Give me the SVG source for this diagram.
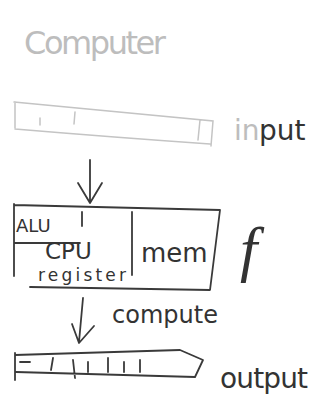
<svg xmlns="http://www.w3.org/2000/svg" width="329" height="403" viewBox="0 0 329 403">
<style>
.s{fill:none;stroke:#3a3a3a;stroke-width:1.8;stroke-linecap:round;stroke-linejoin:round}
.f{fill:none;stroke:#c4c4c4;stroke-width:1.5;stroke-linecap:round}
.t{font-family:"DejaVu Sans",sans-serif;fill:#333}
.g{font-family:"DejaVu Sans",sans-serif;fill:#bdbdbd}
</style>
<rect width="329" height="403" fill="#fff"/>
<g id="title"><text class="g" x="24" y="54" font-size="32" textLength="142">Computer</text></g>
<g id="input">
<path class="f" d="M14 102 L213 121 L211 146 M15 129 Q110 137 210 144 M15 102 L15 128 M40 118 L40 125 M75 112 L74 124 M200 120 L198 140"/>
<text class="g" x="234" y="140" font-size="28">in</text>
<text class="t" x="259" y="140" font-size="28" fill="#555">put</text>
</g>
<g id="machine">
<path class="s" d="M14 205 L220 210 L210 290 L30 287 M14 204 L14 276 M14 243 L80 243 M82 212 L82 226 M132 212 L132 275"/>
<text class="t" x="16" y="232" font-size="18">ALU</text>
<text class="t" x="45" y="259" font-size="23">CPU</text>
<text class="t" x="38" y="281" font-size="17" textLength="88">register</text>
<text class="t" x="141" y="262" font-size="26">mem</text>
<text x="240" y="270" font-size="62" font-style="italic" font-family="Liberation Serif,serif" fill="#333">f</text>
</g>
<g id="output">
<path class="s" d="M15 355 L180 350 L203 360 L195 377 L16 372 M15 353 L15 380 M20 362 L30 362 M53 358 L51 370 M73 360 L75 378 M88 362 L88 372 M108 358 L108 372 M124 362 L124 372 M140 360 L140 372"/>
<text class="t" x="220" y="388" font-size="28" textLength="88">output</text>
</g>
<g id="connectors">
<path class="s" d="M90 160 L90 202 M78 183 L90 203 L102 183"/>
<path class="s" d="M83 298 L79 342 M72 324 L79 343 L94 326"/>
<text class="t" x="112" y="323" font-size="24" textLength="106">compute</text>
</g>
</svg>
